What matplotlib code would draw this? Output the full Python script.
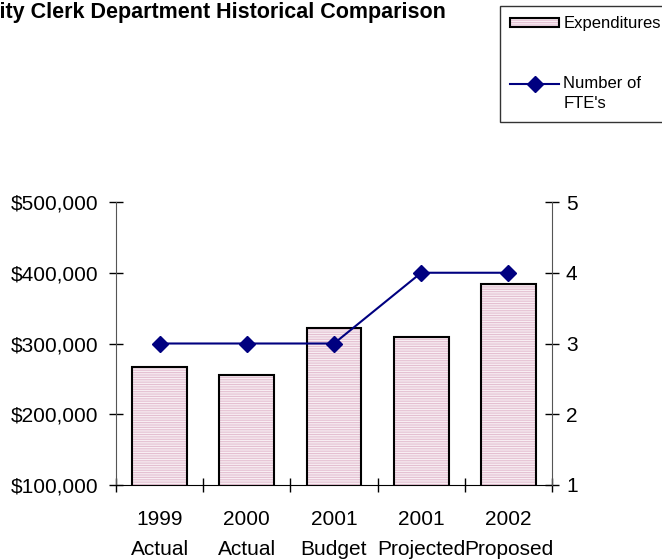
import matplotlib
matplotlib.use('Agg')
import matplotlib.pyplot as plt
from matplotlib.patches import Patch
from matplotlib.lines import Line2D
from matplotlib.legend_handler import HandlerLine2D
from matplotlib.transforms import Affine2D
import numpy as np

categorias = ['1999\nActual', '2000\nActual', '2001\nBudget', '2001\nProjected', '2002\nProposed']
gastos = [267000, 255000, 322000, 309000, 384000]
fte = [3, 3, 3, 4, 4]
ticks_izq = [100000, 200000, 300000, 400000, 500000]
ticks_der = [1, 2, 3, 4, 5]

plt.rcParams['font.family'] = ['Liberation Sans', 'DejaVu Sans']
plt.rcParams['hatch.linewidth'] = 0.8

rosa = '#f8eef3'
rayas = '#e4bfd1'
azul = '#000080'


class LineaArriba(HandlerLine2D):
    # sube la linea de la leyenda a la primera linea del texto
    def create_artists(self, legend, orig_handle, xdescent, ydescent, width, height, fontsize, trans):
        arts = super().create_artists(legend, orig_handle, xdescent, ydescent, width, height, fontsize, trans)
        t = Affine2D().translate(0, 7.2) + trans
        for a in arts:
            a.set_transform(t)
        return arts


fig = plt.figure(figsize=(6.62, 5.59), dpi=100)
ax = fig.add_axes([116/662, 1-485/559, 436/662, 283/559])
x = np.arange(len(categorias))

# relleno rayado y luego el borde negro
ax.bar(x, gastos, width=0.63, color=rosa, edgecolor=rayas, linewidth=0, hatch='-------', zorder=2)
ax.bar(x, gastos, width=0.63, fill=False, edgecolor='black', linewidth=1.5, zorder=3)
ax.set_ylim(100000, 500000)
ax.set_xlim(-0.5, len(categorias) - 0.5)
ax.set_yticks(ticks_izq, labels=['${:,.0f}'.format(v) for v in ticks_izq])
ax.set_xticks(np.arange(-0.5, len(categorias), 1), labels=[''] * (len(categorias) + 1))
ax.set_xticks(x, labels=categorias, minor=True)
ax.tick_params(axis='x', which='major', direction='inout', length=10, width=1)
ax.tick_params(axis='x', which='minor', length=0, pad=18, labelsize=15)
ax.tick_params(axis='y', direction='inout', length=10, width=1, labelsize=15, pad=8)
for lbl in ax.get_xticklabels(minor=True):
    lbl.set_linespacing(1.75)

ax.spines['top'].set_visible(False)
ax.spines['right'].set_visible(False)
ax.spines['left'].set_color('#555555')
ax.spines['bottom'].set_color('black')

ax2 = ax.twinx()
ax2.plot(x, fte, color=azul, linewidth=1.5, marker='D', markersize=8, zorder=4)
ax2.set_ylim(1, 5)
ax2.set_yticks(ticks_der)
ax2.tick_params(axis='y', direction='inout', length=10, width=1, labelsize=15, pad=5)
for s in ['top', 'left', 'bottom']:
    ax2.spines[s].set_visible(False)
ax2.spines['right'].set_color('#555555')

fig.text(-0.0235, 0.978, 'City Clerk Department Historical Comparison',
         fontsize=15.5, fontweight='bold', va='center', ha='left')

relleno = Patch(facecolor=rosa, edgecolor=rayas, hatch='-------', linewidth=0)
borde = Patch(fill=False, edgecolor='black', linewidth=1.5)
linea_fte = Line2D([], [], color=azul, linewidth=1.5, marker='D', markersize=8)
leg = fig.legend([(relleno, borde), linea_fte], ['Expenditures', "Number of\nFTE's"],
                 loc='upper left', bbox_to_anchor=(500/662, 1-6/559), fontsize=12,
                 frameon=True, fancybox=False, edgecolor='black', handlelength=2.92,
                 handleheight=0.52, handletextpad=0.26, labelspacing=2.65, borderpad=0.62,
                 borderaxespad=0, handler_map={linea_fte: LineaArriba()})
leg.get_frame().set_linewidth(1)
leg.get_texts()[1].set_linespacing(1.5)

fig.savefig('out.png', dpi=100)
